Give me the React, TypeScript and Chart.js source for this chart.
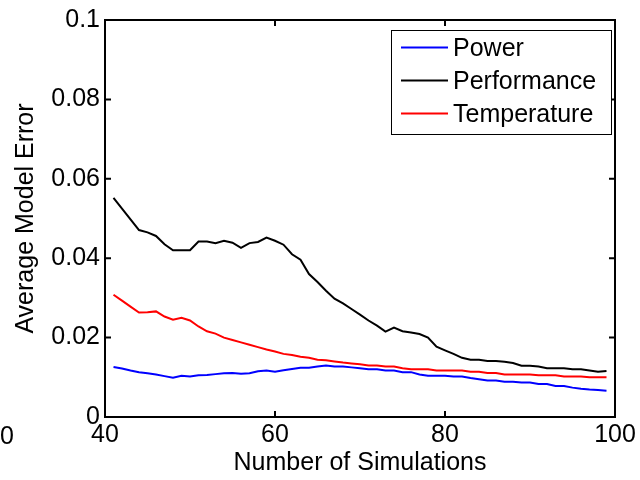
import React, { useEffect, useRef } from "react";
import { Chart, registerables } from "chart.js";

Chart.register(...registerables);

const simulations = [
  41, 42, 43, 44, 45, 46, 47, 48, 49, 50, 51, 52, 53, 54, 55, 56, 57, 58, 59, 60,
  61, 62, 63, 64, 65, 66, 67, 68, 69, 70, 71, 72, 73, 74, 75, 76, 77, 78, 79, 80,
  81, 82, 83, 84, 85, 86, 87, 88, 89, 90, 91, 92, 93, 94, 95, 96, 97, 98, 99,
];

const powerError = [
  0.0126, 0.0122, 0.0117, 0.0113, 0.011, 0.0107, 0.0103, 0.0099, 0.0104, 0.0102,
  0.0105, 0.0106, 0.0108, 0.011, 0.0111, 0.0109, 0.011, 0.0115, 0.0117, 0.0114,
  0.0118, 0.0121, 0.0124, 0.0124, 0.0127, 0.013, 0.0127, 0.0127, 0.0125, 0.0123,
  0.012, 0.012, 0.0117, 0.0117, 0.0113, 0.0113, 0.0107, 0.0104, 0.0104, 0.0104,
  0.0102, 0.0102, 0.0098, 0.0095, 0.0092, 0.0092, 0.0089, 0.0089, 0.0087, 0.0087,
  0.0083, 0.0083, 0.0078, 0.0078, 0.0074, 0.0071, 0.0069, 0.0068, 0.0066,
];

const performanceError = [
  0.0552, 0.0525, 0.0498, 0.0471, 0.0465, 0.0456, 0.0435, 0.042, 0.042, 0.042,
  0.0442, 0.0442, 0.0438, 0.0444, 0.0439, 0.0426, 0.0438, 0.0441, 0.0452, 0.0444,
  0.0434, 0.041, 0.0396, 0.036, 0.034, 0.0318, 0.0298, 0.0286, 0.0272, 0.0258,
  0.0243, 0.023, 0.0215, 0.0225, 0.0216, 0.0213, 0.0209, 0.02, 0.0177, 0.0168,
  0.0159, 0.0149, 0.0144, 0.0144, 0.0141, 0.0141, 0.0139, 0.0136, 0.0129, 0.0129,
  0.0127, 0.0123, 0.0123, 0.0123, 0.012, 0.012, 0.0117, 0.0114, 0.0116,
];

const temperatureError = [
  0.0308, 0.0293, 0.0278, 0.0263, 0.0264, 0.0266, 0.0253, 0.0245, 0.025, 0.0243,
  0.0228, 0.0216, 0.021, 0.02, 0.0194, 0.0188, 0.0182, 0.0176, 0.017, 0.0165,
  0.0159, 0.0156, 0.0152, 0.0149, 0.0144, 0.0143, 0.014, 0.0137, 0.0135, 0.0133,
  0.013, 0.013, 0.0127, 0.0127, 0.0123, 0.012, 0.012, 0.012, 0.0117, 0.0117,
  0.0117, 0.0117, 0.0114, 0.0114, 0.0111, 0.0111, 0.0107, 0.0107, 0.0107, 0.0107,
  0.0105, 0.0105, 0.0105, 0.0102, 0.0102, 0.0102, 0.01, 0.01, 0.01,
];

const seriesNames = ["Power", "Performance", "Temperature"];
const seriesColors = ["#0000ff", "#000000", "#ff0000"];
const xTicks = [40, 60, 80, 100];
const yTicks = [0, 0.02, 0.04, 0.06, 0.08, 0.1];
const xTitle = "Number of Simulations";
const yTitle = "Average Model Error";
const strayLabel = "0";

const FONT_FAMILY = "'Liberation Sans', Arial, Helvetica, sans-serif";
const FONT_SIZE = 25;

const matlabPlugin = {
  id: "matlabBox",
  afterDraw(chart: any) {
    const { ctx, chartArea } = chart;
    const { left, right, top, bottom } = chartArea;
    const xs = chart.scales.x;
    const ys = chart.scales.y;
    ctx.save();
    ctx.strokeStyle = "#000";
    ctx.lineWidth = 2;
    ctx.strokeRect(left, top, right - left, bottom - top);
    const tl = 6;
    ctx.beginPath();
    xs.ticks.forEach((t: any) => {
      const px = xs.getPixelForValue(t.value);
      ctx.moveTo(px, bottom);
      ctx.lineTo(px, bottom - tl);
      ctx.moveTo(px, top);
      ctx.lineTo(px, top + tl);
    });
    ys.ticks.forEach((t: any) => {
      const py = ys.getPixelForValue(t.value);
      ctx.moveTo(left, py);
      ctx.lineTo(left + tl, py);
      ctx.moveTo(right, py);
      ctx.lineTo(right - tl, py);
    });
    ctx.stroke();

    // legend
    const lx = right - 224;
    const ly = top + 10;
    const lw = 220;
    const lh = 104;
    ctx.fillStyle = "#fff";
    ctx.fillRect(lx, ly, lw, lh);
    ctx.lineWidth = 1;
    ctx.strokeRect(lx + 0.5, ly + 0.5, lw, lh);
    ctx.font = `${FONT_SIZE}px ${FONT_FAMILY}`;
    ctx.textBaseline = "middle";
    ctx.textAlign = "left";
    chart.data.datasets.forEach((ds: any, i: number) => {
      const cy = ly + 17.5 + i * 33;
      ctx.strokeStyle = ds.borderColor;
      ctx.lineWidth = 2;
      ctx.beginPath();
      ctx.moveTo(lx + 10, cy);
      ctx.lineTo(lx + 57, cy);
      ctx.stroke();
      ctx.fillStyle = "#000";
      ctx.fillText(ds.label, lx + 62, cy + 2);
    });

    // stray tick label at far left
    ctx.fillStyle = "#000";
    ctx.fillText(strayLabel, 0, 437);
    ctx.restore();
  },
};

export default function App() {
  const ref = useRef<HTMLCanvasElement | null>(null);
  useEffect(() => {
    if (!ref.current) return;
    const series = [powerError, performanceError, temperatureError];
    const chart = new Chart(ref.current, {
      type: "line",
      data: {
        datasets: series.map((vals, i) => ({
          label: seriesNames[i],
          data: simulations.map((x, j) => ({ x, y: vals[j] })),
          borderColor: seriesColors[i],
          backgroundColor: seriesColors[i],
          borderWidth: 2,
          pointRadius: 0,
          tension: 0,
          fill: false,
        })),
      },
      options: {
        responsive: false,
        animation: false,
        layout: { padding: { left: 0, top: 17, right: 25, bottom: 0 } },
        plugins: { legend: { display: false }, tooltip: { enabled: false } },
        scales: {
          x: {
            type: "linear",
            min: 40,
            max: 100,
            afterBuildTicks: (s: any) => {
              s.ticks = xTicks.map((v) => ({ value: v }));
            },
            afterFit: (s: any) => {
              s.height = 63;
            },
            grid: { display: false, drawTicks: false },
            border: { display: false },
            ticks: {
              color: "#000",
              padding: 3,
              maxRotation: 0,
              font: { family: FONT_FAMILY, size: FONT_SIZE },
              callback: (v: any) => String(v),
            },
            title: {
              display: true,
              text: xTitle,
              color: "#000",
              font: { family: FONT_FAMILY, size: FONT_SIZE },
              padding: { top: 0, bottom: 2 },
            },
          },
          y: {
            type: "linear",
            min: 0,
            max: 0.1,
            afterBuildTicks: (s: any) => {
              s.ticks = yTicks.map((v) => ({ value: v }));
            },
            afterFit: (s: any) => {
              s.width = 105;
            },
            grid: { display: false, drawTicks: false },
            border: { display: false },
            ticks: {
              color: "#000",
              padding: 5,
              font: { family: FONT_FAMILY, size: FONT_SIZE },
              callback: (v: any) => String(v),
            },
            title: {
              display: true,
              text: yTitle,
              color: "#000",
              font: { family: FONT_FAMILY, size: FONT_SIZE },
              padding: { top: 11, bottom: 0 },
            },
          },
        },
      },
      plugins: [matlabPlugin],
    });
    return () => chart.destroy();
  }, []);
  return (
    <div style={{ position: "fixed", left: 0, top: 0, width: 640, height: 480, background: "#fff" }}>
      <canvas ref={ref} width={640} height={480} style={{ display: "block" }} />
    </div>
  );
}
